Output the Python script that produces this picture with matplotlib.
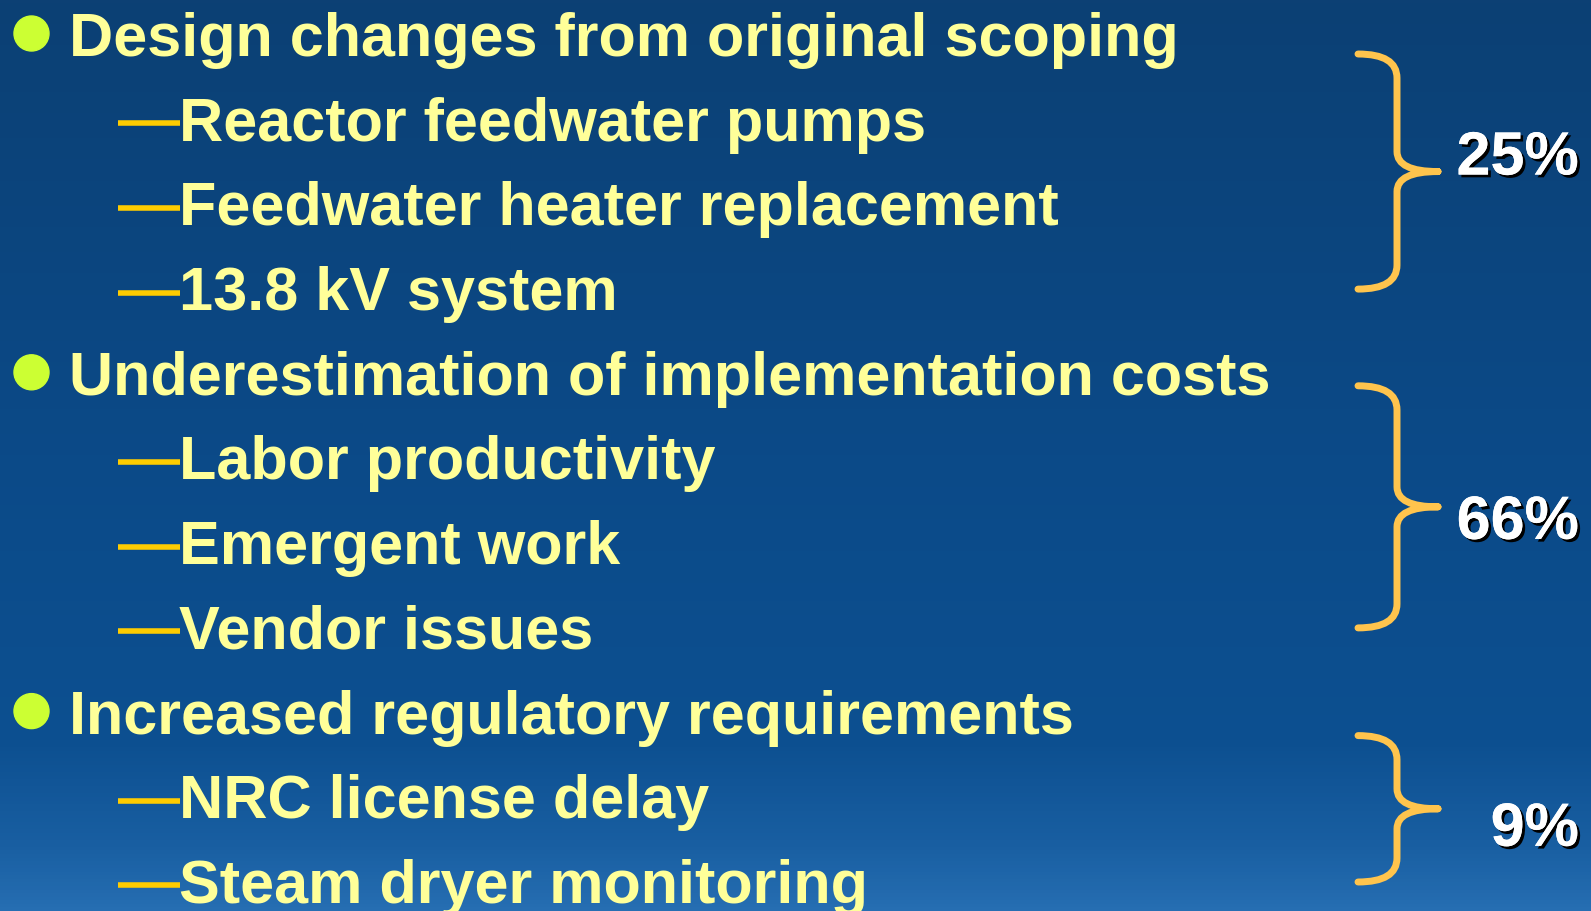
import numpy as np
import matplotlib
matplotlib.use("Agg")
import matplotlib.pyplot as plt
from matplotlib.path import Path
from matplotlib.patches import PathPatch, Circle
from matplotlib.colors import LinearSegmentedColormap
import matplotlib.patheffects as pe

# slide content
headers = [
    "Design changes from original scoping",
    "Underestimation of implementation costs",
    "Increased regulatory requirements",
]
details = [
    ["Reactor feedwater pumps", "Feedwater heater replacement", "13.8 kV system"],
    ["Labor productivity", "Emergent work", "Vendor issues"],
    ["NRC license delay", "Steam dryer monitoring"],
]
shares = [25, 66, 9]

W, H = 1591, 912
TEXT = "#FFFF99"
BULLET = "#CCFF33"
DASH = "#FFCC00"
BRACE = "#FFC44D"
FONT = "Liberation Sans"
FS = 44

fig = plt.figure(figsize=(W / 100, H / 100), dpi=100)
ax = fig.add_axes([0, 0, 1, 1])
ax.set_xlim(0, W)
ax.set_ylim(H, 0)
ax.axis("off")

# background gradient
bg = LinearSegmentedColormap.from_list("bg", [
    (0.0, (12/255, 64/255, 116/255)),
    (0.5, (11/255, 74/255, 136/255)),
    (0.82, (13/255, 80/255, 145/255)),
    (0.93, (25/255, 95/255, 162/255)),
    (1.0, (38/255, 110/255, 178/255)),
])
grad = np.linspace(0, 1, 256).reshape(-1, 1)
ax.imshow(grad, cmap=bg, aspect="auto", extent=[0, W, H, 0], zorder=0)

pitch = 84.7
base0 = 56


def draw_brace(top, bottom):
    x0, xv, xt = 1358, 1397, 1438
    mid = (top + bottom) / 2
    r, r2 = 24, 20
    verts = [
        (x0, top), (xv, top), (xv, top + r),
        (xv, mid - r2), (xv, mid), (xt, mid),
        (xt, mid), (xv, mid), (xv, mid + r2),
        (xv, bottom - r), (xv, bottom), (x0, bottom),
    ]
    codes = [
        Path.MOVETO, Path.CURVE3, Path.CURVE3,
        Path.LINETO, Path.CURVE3, Path.CURVE3,
        Path.MOVETO, Path.CURVE3, Path.CURVE3,
        Path.LINETO, Path.CURVE3, Path.CURVE3,
    ]
    ax.add_patch(PathPatch(Path(verts, codes), fill=False, edgecolor=BRACE,
                           lw=5, capstyle="round", joinstyle="round", zorder=3))
    return mid


top_dy = [-1, -8, 3]
pct_dy = [3, 32, 37]
row = 0
for g, head in enumerate(headers):
    yb = base0 + pitch * row
    ax.add_patch(Circle((31.5, yb - 21.5), 17.5, color=BULLET, zorder=3))
    ax.text(69, yb, head, color=TEXT, fontsize=FS, fontweight="bold",
            family=FONT, va="baseline", ha="left", zorder=4)
    head_row = row
    row += 1
    for item in details[g]:
        yb = base0 + pitch * row
        ax.plot([118, 180], [yb - 16.5, yb - 16.5], color=DASH, lw=4,
                solid_capstyle="butt", zorder=3)
        ax.text(179, yb, item, color=TEXT, fontsize=FS, fontweight="bold",
                family=FONT, va="baseline", ha="left", zorder=4)
        row += 1
    top = base0 + pitch * head_row + top_dy[g]
    bottom = base0 + pitch * (row - 1) - 20
    mid = draw_brace(top, bottom)
    ax.text(1579, mid + pct_dy[g], f"{shares[g]}%", color="white",
            fontsize=FS, fontweight="bold", family=FONT, va="baseline",
            ha="right", zorder=5,
            path_effects=[pe.withSimplePatchShadow(offset=(2, -2),
                                                   shadow_rgbFace="black",
                                                   alpha=1.0),
                          pe.Normal()])

fig.savefig("out.png", dpi=100)
